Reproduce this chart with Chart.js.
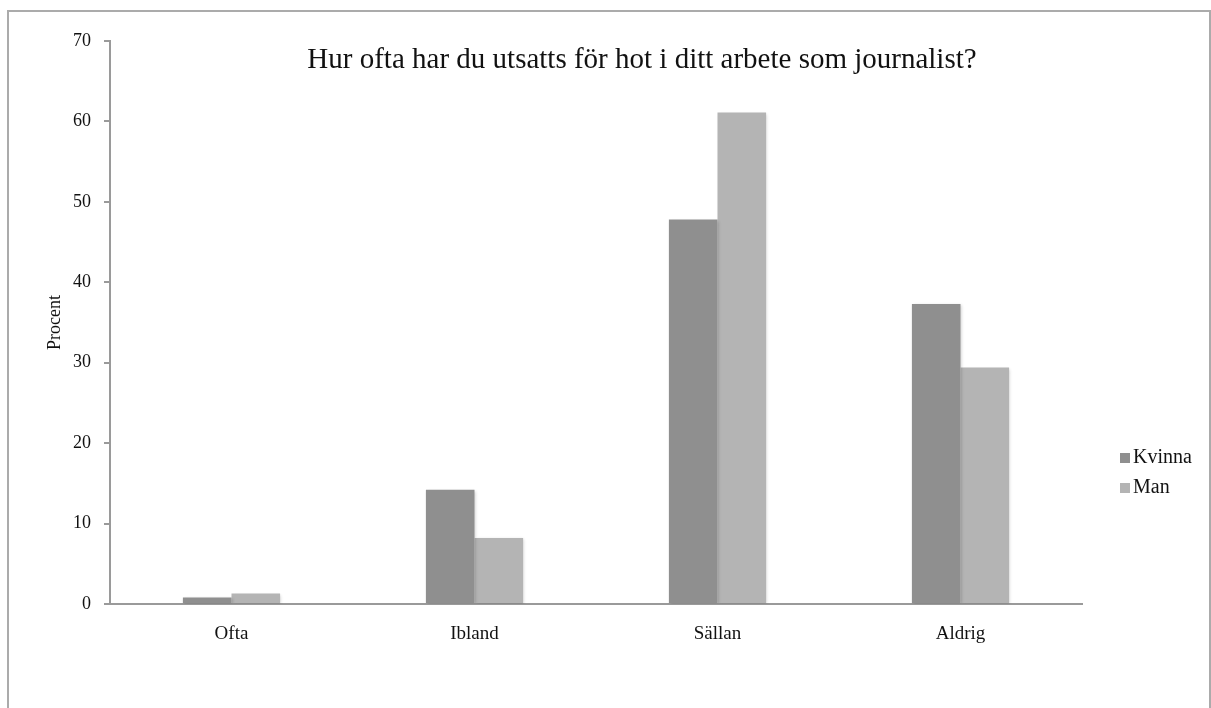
<!DOCTYPE html>
<html lang="sv">
<head>
    <meta charset="UTF-8">
    <title>Hot mot journalister</title>
    <script src="https://cdn.jsdelivr.net/npm/chart.js"></script>
    <style>
        body {
            margin: 0;
            background: #ffffff;
            overflow: hidden;
        }
        .frame {
            position: absolute;
            left: 7px;
            top: 10px;
            width: 1200px;
            height: 720px;
            border: 2px solid #ababab;
        }
        #chart {
            position: absolute;
            left: 0;
            top: 0;
        }
    </style>
</head>
<body>
<div class="frame"></div>
<canvas id="chart" width="1211" height="708"></canvas>

<script>
    const categories = ["Ofta", "Ibland", "Sällan", "Aldrig"];
    const kvinna = [0.8, 14.2, 47.8, 37.3];
    const man = [1.3, 8.2, 61.1, 29.4];
    const yTicks = [0, 10, 20, 30, 40, 50, 60, 70];
    const chartTitle = "Hur ofta har du utsatts för hot i ditt arbete som journalist?";

    const serif = "'Liberation Serif', 'DejaVu Serif', serif";

    // title sits inside the plot area, like the original
    const titlePlugin = {
        id: "insideTitle",
        afterDraw(chart) {
            const ctx = chart.ctx;
            ctx.save();
            ctx.font = "29px " + serif;
            ctx.fillStyle = "#111";
            ctx.textAlign = "center";
            ctx.textBaseline = "middle";
            ctx.fillText(chartTitle, 642, 60);
            ctx.restore();
        }
    };

    const legendPlugin = {
        id: "sideLegend",
        afterDraw(chart) {
            const ctx = chart.ctx;
            ctx.save();
            ctx.font = "20px " + serif;
            ctx.textBaseline = "middle";
            chart.data.datasets.forEach((ds, i) => {
                const y = 458 + i * 30;
                ctx.fillStyle = ds.backgroundColor;
                ctx.fillRect(1120, y - 5, 10, 10);
                ctx.fillStyle = "#111";
                ctx.fillText(ds.label, 1133, y);
            });
            ctx.restore();
        }
    };

    const shadowPlugin = {
        id: "barShadow",
        beforeDatasetsDraw(chart) {
            const ctx = chart.ctx;
            ctx.save();
            ctx.shadowColor = "rgba(0,0,0,0.18)";
            ctx.shadowBlur = 3;
            ctx.shadowOffsetX = 1;
            ctx.shadowOffsetY = 1;
        },
        afterDatasetsDraw(chart) {
            chart.ctx.restore();
        }
    };

    new Chart(document.getElementById("chart"), {
        type: "bar",
        data: {
            labels: categories,
            datasets: [
                { label: "Kvinna", data: kvinna, backgroundColor: "#8f8f8f" },
                { label: "Man", data: man, backgroundColor: "#b4b4b4" }
            ]
        },
        options: {
            responsive: false,
            animation: false,
            devicePixelRatio: 1,
            layout: {
                padding: { top: 41, right: 129, bottom: 0, left: 0 }
            },
            datasets: {
                bar: { categoryPercentage: 0.4, barPercentage: 1.0 }
            },
            plugins: {
                legend: { display: false },
                tooltip: { enabled: false },
                title: { display: false }
            },
            scales: {
                x: {
                    grid: { display: false, drawTicks: false },
                    border: { display: true, color: "#9a9a9a", width: 2 },
                    ticks: {
                        padding: 19,
                        color: "#111",
                        font: { family: serif, size: 19 }
                    },
                    afterFit(scale) { scale.height = 104; }
                },
                y: {
                    min: 0,
                    max: 70,
                    afterBuildTicks(scale) {
                        scale.ticks = yTicks.map(v => ({ value: v }));
                    },
                    grid: {
                        drawOnChartArea: false,
                        drawTicks: true,
                        tickLength: 6,
                        color: "#9a9a9a",
                        lineWidth: 2
                    },
                    border: { display: true, color: "#9a9a9a", width: 2 },
                    ticks: {
                        padding: 13,
                        color: "#111",
                        font: { family: serif, size: 18 }
                    },
                    title: {
                        display: true,
                        text: "Procent",
                        color: "#111",
                        font: { family: serif, size: 18 },
                        padding: { top: 44, bottom: 0 }
                    },
                    afterFit(scale) { scale.width = 110; }
                }
            }
        },
        plugins: [shadowPlugin, titlePlugin, legendPlugin]
    });
</script>
</body>
</html>
